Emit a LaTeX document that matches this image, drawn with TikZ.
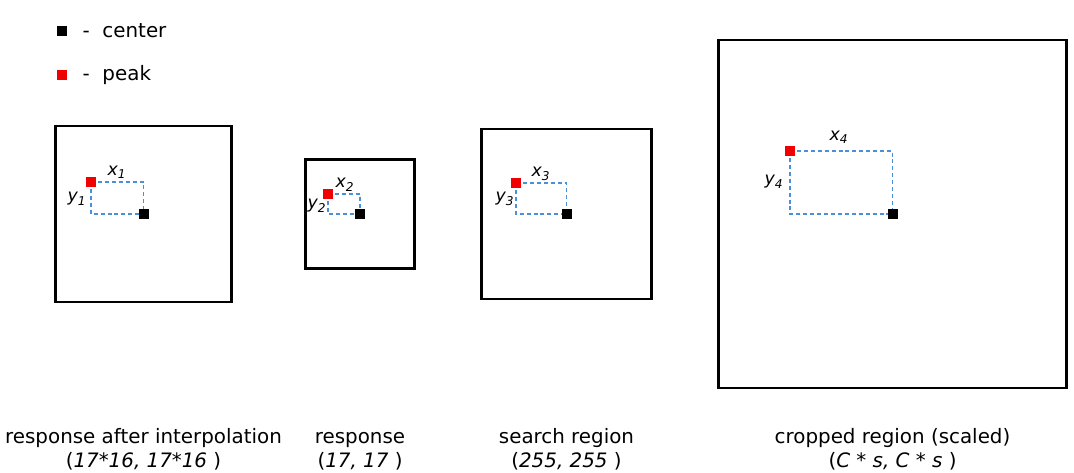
\documentclass[tikz,border=0pt]{standalone}
\usepackage{fontspec}
\setmainfont{DejaVu Sans}
\usepackage{xcolor}
\usetikzlibrary{positioning,backgrounds}
\definecolor{gapBlue}{RGB}{74,144,217}
\definecolor{peakRed}{RGB}{240,0,0}

\begin{document}
\begin{tikzpicture}[
  x=0.75pt,y=-0.75pt,
  every node/.style={font=\fontsize{14.9}{18}\selectfont},
  frame/.style={draw=black,line width=1.6pt,inner sep=0pt,minimum size=#1},
  dot/.style={inner sep=0pt,minimum size=7.5pt,fill=#1},
  gap/.style={draw=gapBlue,line width=0.8pt,dash pattern=on 3pt off 2.2pt},
  lb/.style={font=\fontsize{13}{14}\selectfont\itshape,inner sep=1pt},
  capt/.style={align=center,inner sep=0pt},
]
  \useasboundingbox (0,0) rectangle (1074,472);

  % legend
  \node[dot=black]   (lc) at (62,31) {};
  \node[anchor=west] (lct) at (78,31) {-\ \ center};
  \node[dot=peakRed] (lp) at (62,75) {};
  \node[anchor=west] (lpt) at (78,75) {-\ \ peak};

  % the four regions
  \node[frame=132pt]    (b1) at (143.5,214) {};
  \node[frame=81.75pt]  (b2) at (360,214)   {};
  \node[frame=127.5pt]  (b3) at (566.5,214) {};
  \node[frame=261pt]    (b4) at (892.5,214) {};

  % centers and peaks
  \node[dot=black] (c1) at (b1.center) {};
  \node[dot=black] (c2) at (b2.center) {};
  \node[dot=black] (c3) at (b3.center) {};
  \node[dot=black] (c4) at (b4.center) {};
  \node[dot=peakRed] (p1) at (91,182)  {};
  \node[dot=peakRed] (p2) at (328,194) {};
  \node[dot=peakRed] (p3) at (516,183) {};
  \node[dot=peakRed] (p4) at (790,151) {};

  \begin{scope}[on background layer]
    \foreach \i in {1,...,4}{
      \draw[gap] (p\i.center) -| (c\i.center);
      \draw[gap] (p\i.center) |- (c\i.center);
    }
  \end{scope}

  \node[lb] (x1) at (117,172) {x\textsubscript{1}};
  \node[lb] (y1) at (77,199)  {y\textsubscript{1}};
  \node[lb] (x2) at (345,185) {x\textsubscript{2}};
  \node[lb] (y2) at (317,206) {y\textsubscript{2}};
  \node[lb] (x3) at (541,174) {x\textsubscript{3}};
  \node[lb] (y3) at (505,199) {y\textsubscript{3}};
  \node[lb] (x4) at (839,137) {x\textsubscript{4}};
  \node[lb] (y4) at (774,182) {y\textsubscript{4}};

  % captions
  \node[capt] (t1) at (143.5,451) {response after interpolation\strut\\(\textit{17*16, 17*16} )\strut};
  \node[capt] (t2) at (360,451)   {response\strut\\(\textit{17, 17} )\strut};
  \node[capt] (t3) at (566.5,451) {search region\strut\\(\textit{255, 255} )\strut};
  \node[capt] (t4) at (892.5,451) {cropped region (scaled)\strut\\(\textit{C * s, C * s} )\strut};
\end{tikzpicture}
\end{document}
